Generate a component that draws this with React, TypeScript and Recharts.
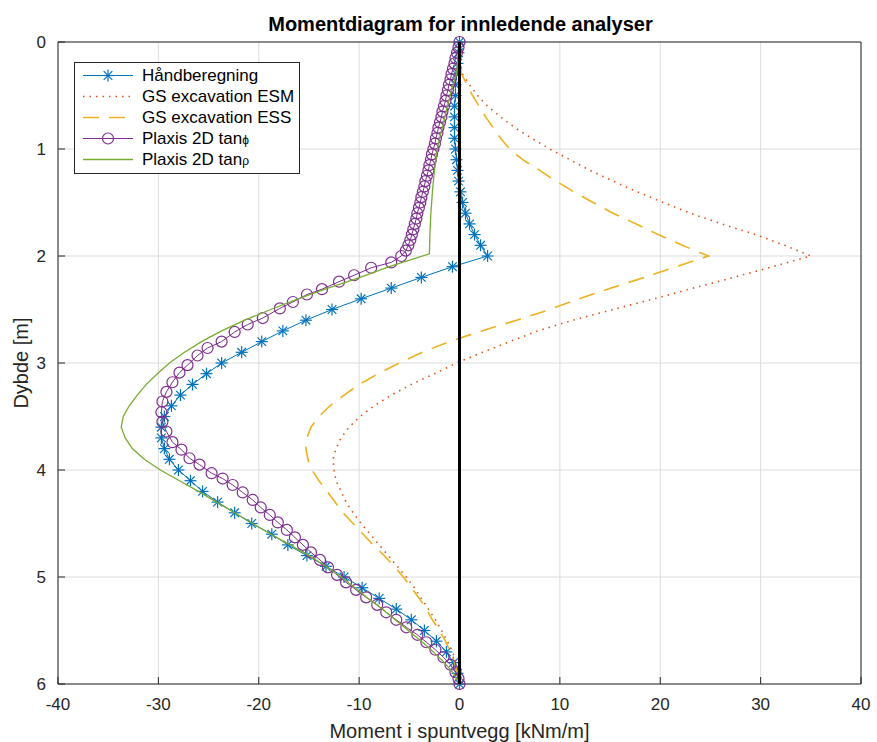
import { ScatterChart, Scatter, XAxis, YAxis, CartesianGrid } from 'recharts';

// Depth [m] / moment [kNm/m]
const handZ = [
  0, 0.1, 0.2, 0.3, 0.4, 0.5, 0.6, 0.7, 0.8, 0.9, 1.0, 1.1, 1.2, 1.3, 1.4, 1.5, 1.6, 1.7, 1.8, 1.9, 2.0,
  2.1, 2.2, 2.3, 2.4, 2.5, 2.6, 2.7, 2.8, 2.9, 3.0, 3.1, 3.2, 3.3, 3.4, 3.5, 3.6, 3.7, 3.8, 3.9, 4.0,
  4.1, 4.2, 4.3, 4.4, 4.5, 4.6, 4.7, 4.8, 4.9, 5.0, 5.1, 5.2, 5.3, 5.4, 5.5, 5.6, 5.7, 5.8, 5.9, 6.0,
];
const handM = [
  0, -0.1, -0.2, -0.3, -0.4, -0.4, -0.5, -0.5, -0.5, -0.5, -0.4, -0.3, -0.2, -0.1, 0.1, 0.3, 0.6, 1.0, 1.5, 2.1, 2.8,
  -0.7, -3.8, -6.8, -9.8, -12.7, -15.3, -17.6, -19.7, -21.7, -23.7, -25.2, -26.6, -27.8, -28.7, -29.4, -29.7, -29.7, -29.4, -28.9, -28.0,
  -26.8, -25.6, -24.1, -22.4, -20.7, -18.7, -17.1, -15.2, -13.3, -11.5, -9.7, -8.0, -6.3, -4.8, -3.5, -2.3, -1.3, -0.6, -0.2, 0,
];

const esmZ = [
  0, 0.2, 0.3, 0.4, 0.5, 0.6, 0.7, 0.8, 0.9, 1.0, 1.1, 1.2, 1.3, 1.4, 1.5, 1.6, 1.7, 1.8, 1.9, 2.0,
  2.1, 2.2, 2.3, 2.4, 2.5, 2.6, 2.7, 2.8, 2.9, 3.0, 3.1, 3.2, 3.3, 3.4, 3.5, 3.6, 3.7, 3.8, 3.9, 4.0,
  4.1, 4.2, 4.3, 4.4, 4.5, 4.6, 4.7, 4.8, 4.9, 5.0, 5.1, 5.2, 5.3, 5.4, 5.5, 5.6, 5.7, 5.8, 5.9, 6.0,
];
const esmM = [
  0, 0, 0.3, 1.0, 1.8, 2.8, 4.1, 5.5, 7.2, 9.0, 11.0, 13.0, 15.3, 17.7, 20.3, 23.0, 26.1, 29.5, 32.4, 35.0,
  31.2, 27.3, 23.3, 19.4, 15.3, 11.3, 7.8, 5.0, 2.3, -0.3, -2.5, -4.8, -6.8, -8.5, -9.9, -11.0, -11.8, -12.3, -12.6, -12.5,
  -12.3, -11.8, -11.3, -10.6, -9.8, -8.9, -8.0, -7.1, -6.2, -5.3, -4.5, -3.8, -3.1, -2.4, -1.8, -1.2, -0.7, -0.3, -0.1, 0,
];

const essZ = [
  0, 0.2, 0.3, 0.5, 0.7, 0.9, 1.0, 1.1, 1.2, 1.3, 1.4, 1.5, 1.6, 1.7, 1.8, 1.9, 2.0,
  2.1, 2.2, 2.3, 2.4, 2.5, 2.6, 2.7, 2.8, 2.9, 3.0, 3.1, 3.2, 3.3, 3.4, 3.5, 3.6, 3.7, 3.8, 3.9, 4.0,
  4.1, 4.2, 4.3, 4.4, 4.5, 4.6, 4.7, 4.8, 4.9, 5.0, 5.1, 5.2, 5.3, 5.4, 5.5, 5.6, 5.7, 5.8, 5.9, 6.0,
];
const essM = [
  0, 0, 0.2, 1.3, 2.6, 4.1, 5.0, 6.3, 8.0, 9.6, 11.4, 13.3, 15.3, 17.6, 19.8, 22.2, 24.8,
  21.6, 18.4, 15.1, 11.9, 9.0, 5.7, 2.2, -1.0, -3.7, -6.0, -8.1, -10.0, -11.5, -12.9, -14.0, -14.8, -15.2, -15.3, -15.1, -14.7,
  -14.0, -13.2, -12.4, -11.6, -10.6, -9.6, -8.6, -7.5, -6.5, -5.6, -4.8, -4.0, -3.3, -2.7, -2.0, -1.4, -0.9, -0.5, -0.2, 0,
];

const phiZ = [
  0, 0.05, 0.1, 0.15, 0.2, 0.25, 0.3, 0.35, 0.4, 0.45, 0.5, 0.55, 0.6, 0.65, 0.7, 0.75, 0.8, 0.85, 0.9, 0.95,
  1.0, 1.05, 1.1, 1.15, 1.2, 1.25, 1.3, 1.35, 1.4, 1.45, 1.5, 1.55, 1.6, 1.65, 1.7, 1.75, 1.8, 1.85, 1.9, 1.95, 2.0,
  2.06, 2.11, 2.18, 2.24, 2.31, 2.36, 2.43, 2.49, 2.58, 2.64, 2.71, 2.8, 2.86, 2.93, 3.02, 3.09, 3.18, 3.27, 3.36, 3.46,
  3.55, 3.64, 3.74, 3.81, 3.89, 3.95, 4.03, 4.08, 4.14, 4.21, 4.28, 4.35, 4.42, 4.49, 4.56, 4.63, 4.7, 4.77, 4.84, 4.91,
  4.98, 5.05, 5.12, 5.19, 5.26, 5.33, 5.4, 5.47, 5.54, 5.61, 5.68, 5.75, 5.82, 5.89, 5.95, 6.0,
];
const phiM = [
  0, -0.1, -0.25, -0.4, -0.5, -0.65, -0.8, -0.9, -1.05, -1.15, -1.3, -1.4, -1.55, -1.7, -1.8, -1.95, -2.1, -2.2, -2.35, -2.45,
  -2.6, -2.75, -2.85, -3.0, -3.1, -3.25, -3.4, -3.5, -3.65, -3.8, -3.9, -4.05, -4.2, -4.3, -4.45, -4.6, -4.75, -4.9, -5.1, -5.35, -5.8,
  -6.8, -8.8, -10.5, -12.0, -13.7, -15.2, -16.6, -17.9, -19.6, -21.1, -22.4, -23.7, -25.1, -26.1, -27.1, -27.9, -28.6, -29.2, -29.6, -29.7,
  -29.6, -29.2, -28.6, -27.7, -26.9, -25.9, -24.7, -23.6, -22.6, -21.6, -20.6, -19.8, -18.9, -18.1, -17.2, -16.4, -15.6, -14.8, -13.9, -13.1,
  -12.2, -11.3, -10.3, -9.3, -8.2, -7.3, -6.3, -5.3, -4.2, -3.3, -2.4, -1.6, -0.9, -0.4, -0.1, 0,
];

const rhoZ = [
  0, 0.3, 0.45, 0.6, 0.8, 0.9, 1.0, 1.2, 1.4, 1.6, 1.8, 1.98,
  2.1, 2.2, 2.3, 2.4, 2.5, 2.6, 2.7, 2.8, 2.9, 3.0, 3.1, 3.2, 3.3, 3.4, 3.5, 3.6, 3.7, 3.8, 3.9, 4.0,
  4.1, 4.2, 4.3, 4.4, 4.5, 4.6, 4.7, 4.8, 4.9, 5.0, 5.1, 5.2, 5.3, 5.4, 5.5, 5.6, 5.7, 5.8, 5.9, 6.0,
];
const rhoM = [
  0, -0.3, -0.8, -1.2, -1.7, -2.0, -2.2, -2.5, -2.7, -2.85, -2.95, -3.0,
  -7.0, -9.9, -13.1, -16.1, -18.8, -21.4, -23.7, -25.7, -27.4, -28.9, -30.1, -31.2, -32.1, -32.9, -33.5, -33.7, -33.3, -32.6, -31.4, -29.8,
  -27.9, -26.0, -24.2, -22.4, -20.6, -18.8, -16.9, -15.0, -13.3, -11.8, -10.4, -9.1, -7.7, -6.4, -5.1, -3.8, -2.6, -1.5, -0.6, 0,
];

// the wall itself, drawn as a thick black line at M = 0
const wallZ = [0, 6];
const wallM = [0, 0];

const xTicks = [-40, -30, -20, -10, 0, 10, 20, 30, 40];
const yTicks = [0, 1, 2, 3, 4, 5, 6];

const BLUE = '#0072BD';
const ORANGE = '#D95319';
const YELLOW = '#EDB120';
const PURPLE = '#7E2F8E';
const GREEN = '#77AC30';
const AXIS = '#262626';
const FONT = '"Liberation Sans", Arial, Helvetica, sans-serif';

const toPoints = (zs: number[], ms: number[]) => zs.map((z, i) => ({ z, m: ms[i] }));

const Star = ({ cx, cy }: any) => (
  <g stroke={BLUE} strokeWidth={1.2}>
    <line x1={cx - 6} y1={cy} x2={cx + 6} y2={cy} />
    <line x1={cx} y1={cy - 6} x2={cx} y2={cy + 6} />
    <line x1={cx - 4.3} y1={cy - 4.3} x2={cx + 4.3} y2={cy + 4.3} />
    <line x1={cx - 4.3} y1={cy + 4.3} x2={cx + 4.3} y2={cy - 4.3} />
  </g>
);

const Ring = ({ cx, cy }: any) => (
  <circle cx={cx} cy={cy} r={5.5} fill="none" stroke={PURPLE} strokeWidth={1.2} />
);

const NoMark = () => <g />;

const series = [
  { name: 'Håndberegning', z: handZ, m: handM, color: BLUE, width: 1, dash: undefined, mark: Star },
  { name: 'GS excavation ESM', z: esmZ, m: esmM, color: ORANGE, width: 1.6, dash: '1.5 5', mark: NoMark },
  { name: 'GS excavation ESS', z: essZ, m: essM, color: YELLOW, width: 1.6, dash: '16 10', mark: NoMark },
  { name: 'Plaxis 2D tan', greek: 'ϕ', z: phiZ, m: phiM, color: PURPLE, width: 1, dash: undefined, mark: Ring },
  { name: 'Plaxis 2D tan', greek: 'ρ', z: rhoZ, m: rhoM, color: GREEN, width: 1.3, dash: undefined, mark: NoMark },
];

function LegendBox() {
  return (
    <div
      style={{
        position: 'absolute',
        left: 74,
        top: 62,
        width: 226,
        height: 112,
        boxSizing: 'border-box',
        border: `1px solid ${AXIS}`,
        background: '#fff',
        fontFamily: FONT,
        fontSize: 17,
        color: '#000',
      }}
    >
      {series.map((s, i) => {
        const Mark = s.mark;
        return (
          <div key={i} style={{ position: 'absolute', left: 0, top: 2 + i * 21, height: 21, width: '100%' }}>
            <svg width={62} height={21} style={{ position: 'absolute', left: 6, top: 0 }}>
              <line x1={2} y1={10.5} x2={52} y2={10.5} stroke={s.color} strokeWidth={s.width} strokeDasharray={s.dash} />
              <Mark cx={27} cy={10.5} />
            </svg>
            <span style={{ position: 'absolute', left: 67, top: 0, lineHeight: '21px', whiteSpace: 'nowrap' }}>
              {s.name}
              {s.greek && <span style={{ fontSize: 12 }}>{s.greek}</span>}
            </span>
          </div>
        );
      })}
    </div>
  );
}

export default function App() {
  return (
    <div style={{ position: 'absolute', left: 0, top: 0, width: 877, height: 742, background: '#fff' }}>
      <ScatterChart width={877} height={742} margin={{ top: 41, right: 15, bottom: 0, left: 0 }} style={{ fontFamily: FONT }}>
        <CartesianGrid stroke="#dcdcdc" />
        <XAxis
          type="number"
          dataKey="m"
          domain={[-40, 40]}
          ticks={xTicks}
          height={58}
          tickSize={-7}
          tickMargin={21}
          stroke={AXIS}
          tickLine={{ stroke: AXIS }}
          tick={{ fill: AXIS, fontSize: 17 }}
          label={{ value: 'Moment i spuntvegg [kNm/m]', position: 'insideBottom', offset: 4, fill: AXIS, fontSize: 20 }}
        />
        <XAxis
          xAxisId="top"
          orientation="top"
          type="number"
          dataKey="m"
          domain={[-40, 40]}
          ticks={xTicks}
          height={1}
          tickSize={-7}
          tick={false}
          stroke={AXIS}
          tickLine={{ stroke: AXIS }}
          label={({ viewBox }: any) => (
            <text
              x={viewBox.x + viewBox.width / 2 + 1}
              y={viewBox.y - 10}
              textAnchor="middle"
              fontSize={20}
              fontWeight="bold"
              fill="#000"
            >
              Momentdiagram for innledende analyser
            </text>
          )}
        />
        <YAxis
          type="number"
          dataKey="z"
          domain={[0, 6]}
          ticks={yTicks}
          reversed
          width={58}
          tickSize={-7}
          tickMargin={19}
          stroke={AXIS}
          tickLine={{ stroke: AXIS }}
          tick={{ fill: AXIS, fontSize: 17 }}
          label={({ viewBox }: any) => {
            const x = viewBox.x + 28;
            const y = viewBox.y + viewBox.height / 2;
            return (
              <text x={x} y={y} transform={`rotate(-90, ${x}, ${y})`} textAnchor="middle" fontSize={20} fill={AXIS}>
                Dybde [m]
              </text>
            );
          }}
        />
        <YAxis
          yAxisId="right"
          orientation="right"
          type="number"
          dataKey="z"
          domain={[0, 6]}
          ticks={yTicks}
          reversed
          width={1}
          tickSize={-7}
          tick={false}
          stroke={AXIS}
          tickLine={{ stroke: AXIS }}
        />
        {series.map((s, i) => (
          <Scatter
            key={i}
            data={toPoints(s.z, s.m)}
            fill={s.color}
            line={{ stroke: s.color, strokeWidth: s.width, strokeDasharray: s.dash }}
            lineType="joint"
            shape={s.mark}
            isAnimationActive={false}
          />
        ))}
        <Scatter
          xAxisId="top"
          yAxisId="right"
          data={toPoints(wallZ, wallM)}
          fill="#000"
          line={{ stroke: '#000', strokeWidth: 3 }}
          lineType="joint"
          shape={NoMark}
          isAnimationActive={false}
        />
      </ScatterChart>
      <LegendBox />
    </div>
  );
}
